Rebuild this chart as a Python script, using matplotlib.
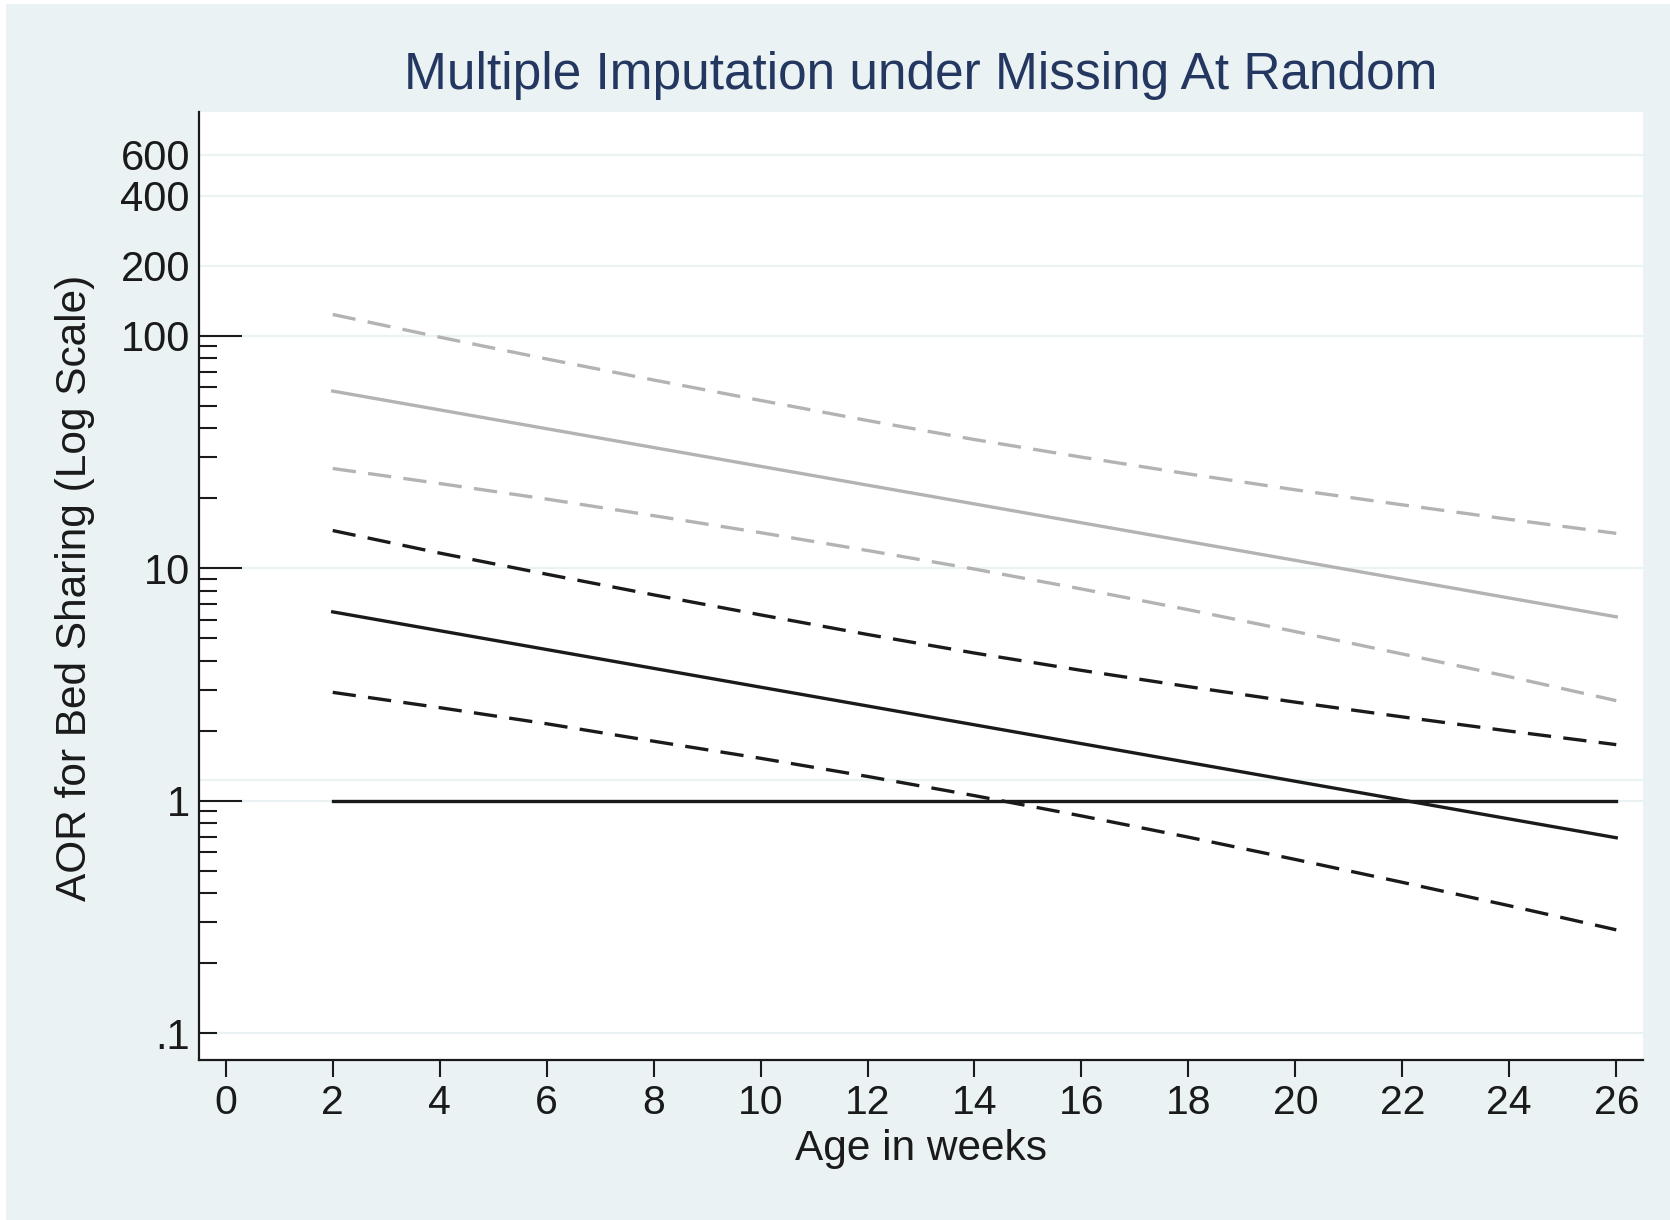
import matplotlib
matplotlib.use("Agg")
import matplotlib.pyplot as plt
from matplotlib.patches import Rectangle
from matplotlib.ticker import FixedLocator, NullFormatter

# ---- data ----
# fitted AORs are straight on the log scale -> end points only
weeks_fit = [2, 26]
mi_aor = [57.7, 6.17]          # grey solid
cc_aor = [6.48, 0.692]         # black solid
ref_line = [1, 1]              # reference AOR = 1

# confidence bounds are slightly curved -> read every 2 weeks
weeks_ci = [2, 4, 6, 8, 10, 12, 14, 16, 18, 20, 22, 24, 26]
mi_upper = [123.2, 98.4, 79.3, 64.4, 52.6, 43.1, 35.7, 30.0, 25.4, 21.7, 18.7, 16.2, 14.1]
mi_lower = [26.8, 23.1, 19.8, 16.8, 14.2, 11.9, 9.9, 8.13, 6.62, 5.33, 4.27, 3.41, 2.69]
cc_upper = [14.5, 11.6, 9.41, 7.67, 6.29, 5.18, 4.31, 3.63, 3.09, 2.65, 2.29, 1.99, 1.74]
cc_lower = [2.92, 2.51, 2.14, 1.80, 1.52, 1.27, 1.05, 0.859, 0.696, 0.558, 0.445, 0.353, 0.278]

ytick_vals = [0.1, 1, 10, 100, 200, 400, 600]
ytick_labels = [".1", "1", "10", "100", "200", "400", "600"]
xtick_vals = list(range(0, 27, 2))
grid_vals = [0.1, 1, 1.23, 10, 100, 200, 400, 600]

title = "Multiple Imputation under Missing At Random"
xlabel = "Age in weeks"
ylabel = "AOR for Bed Sharing (Log Scale)"

# ---- style ----
W, H = 1670, 1220
DPI = 100
BG = "#EAF2F3"
GREY = "#B3B3B3"
BLACK = "#1A1A1A"
TITLE_C = "#243760"
FONT = "Liberation Sans"

plt.rcParams["font.family"] = [FONT, "DejaVu Sans"]

fig = plt.figure(figsize=(W / DPI, H / DPI), dpi=DPI, facecolor="white")
fig.patches.append(Rectangle((6 / W, 0), 1, 1 - 4 / H, transform=fig.transFigure,
                             facecolor=BG, edgecolor="none", zorder=-10))

ax_l, ax_r, ax_b, ax_t = 199, 1643, 1060, 112
ax = fig.add_axes([ax_l / W, 1 - ax_b / H, (ax_r - ax_l) / W, (ax_b - ax_t) / H])
ax.set_facecolor("white")
ax.set_yscale("log")
ax.set_xlim(-0.5, 26.5)
ax.set_ylim(0.0766, 915)

for g in grid_vals:
    ax.axhline(g, color=BG, lw=1.6, zorder=0.5)

lw = 2.4
dash = (7.0, 3.7)
ax.plot(weeks_ci, mi_upper, color=GREY, lw=lw, dashes=dash, zorder=2)
ax.plot(weeks_fit, mi_aor, color=GREY, lw=lw, zorder=2)
ax.plot(weeks_ci, mi_lower, color=GREY, lw=lw, dashes=dash, zorder=2)
ax.plot(weeks_ci, cc_upper, color=BLACK, lw=lw, dashes=dash, zorder=3)
ax.plot(weeks_fit, cc_aor, color=BLACK, lw=lw, zorder=3)
ax.plot(weeks_ci, cc_lower, color=BLACK, lw=lw, dashes=dash, zorder=3)
ax.plot(weeks_fit, ref_line, color=BLACK, lw=lw, zorder=3)

for s in ["top", "right"]:
    ax.spines[s].set_visible(False)
for s in ["left", "bottom"]:
    ax.spines[s].set_linewidth(1.6)
    ax.spines[s].set_color(BLACK)

# y ticks: long inward ticks at 1,10,100 ; short at minors and .1 ; none at 200-600
ax.yaxis.set_major_locator(FixedLocator(ytick_vals))
ax.set_yticklabels(ytick_labels)
long_ticks = {1, 10, 100}
ax.tick_params(axis="y", which="major", direction="in", length=31, width=1.5,
               labelsize=30, pad=6.5, colors=BLACK)
for t, v in zip(ax.yaxis.get_major_ticks(), ytick_vals):
    if v not in long_ticks:
        t.tick1line.set_markersize(13 if v == 0.1 else 0)
minor_vals = [m * d for d in (0.1, 1, 10) for m in range(2, 10)]
ax.yaxis.set_minor_locator(FixedLocator(minor_vals))
ax.yaxis.set_minor_formatter(NullFormatter())
ax.tick_params(axis="y", which="minor", direction="in", length=13, width=1.5, colors=BLACK)

ax.set_xticks(xtick_vals)
ax.tick_params(axis="x", which="major", direction="out", length=12, width=1.5,
               labelsize=29.5, pad=5, colors=BLACK)

fig.text(921 / W, 1 - 76 / H, title, ha="center", va="center", fontsize=37, color=TITLE_C)
fig.text(921 / W, 1 - 1149 / H, xlabel, ha="center", va="center", fontsize=30.5, color=BLACK)
fig.text(74.6 / W, 1 - 588 / H, ylabel, ha="center", va="center", rotation=90,
         fontsize=30.5, color=BLACK)

fig.savefig("out.png", dpi=DPI, facecolor=fig.get_facecolor())
